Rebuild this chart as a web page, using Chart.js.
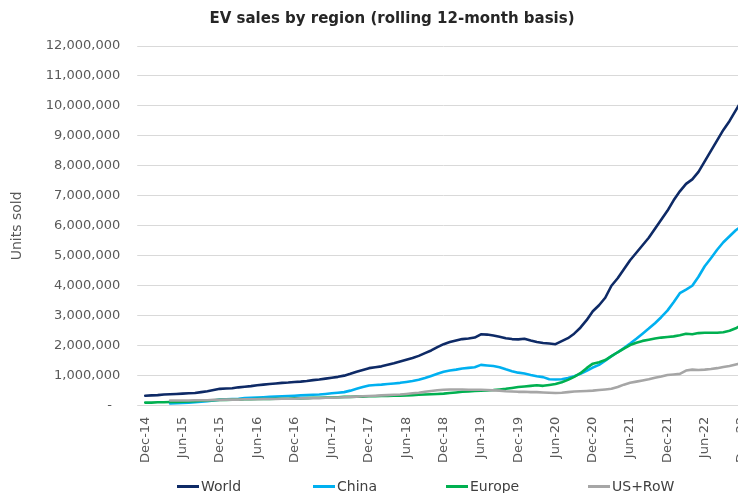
<!DOCTYPE html>
<html>
<head>
<meta charset="utf-8">
<script src="https://cdn.jsdelivr.net/npm/chart.js@4/dist/chart.umd.min.js"></script>
<style>
  html, body { margin:0; padding:0; background:#ffffff; }
  body { width:738px; height:493px; overflow:hidden; position:relative; font-family:"DejaVu Sans", sans-serif; }
  #c { position:absolute; left:0; top:0; }
  #title { position:absolute; left:0; top:8px; width:784px; text-align:center; font-weight:bold; font-size:15px; color:#262626; line-height:20px; white-space:nowrap; }
  #legend { position:absolute; left:0; top:477px; width:738px; height:18px; font-size:14px; color:#404040; }
  .item { position:absolute; top:0; display:flex; align-items:center; white-space:nowrap; height:18px; }
  .swatch { display:inline-block; width:22px; height:3px; margin-right:2px; }
</style>
</head>
<body>
<canvas id="c" width="784" height="493"></canvas>
<div id="title">EV sales by region (rolling 12-month basis)</div>
<div id="legend"></div>
<script>
const months = [
  "Dec-14",
  "Jan-15","Feb-15","Mar-15","Apr-15","May-15","Jun-15","Jul-15","Aug-15","Sep-15","Oct-15","Nov-15","Dec-15",
  "Jan-16","Feb-16","Mar-16","Apr-16","May-16","Jun-16","Jul-16","Aug-16","Sep-16","Oct-16","Nov-16","Dec-16",
  "Jan-17","Feb-17","Mar-17","Apr-17","May-17","Jun-17","Jul-17","Aug-17","Sep-17","Oct-17","Nov-17","Dec-17",
  "Jan-18","Feb-18","Mar-18","Apr-18","May-18","Jun-18","Jul-18","Aug-18","Sep-18","Oct-18","Nov-18","Dec-18",
  "Jan-19","Feb-19","Mar-19","Apr-19","May-19","Jun-19","Jul-19","Aug-19","Sep-19","Oct-19","Nov-19","Dec-19",
  "Jan-20","Feb-20","Mar-20","Apr-20","May-20","Jun-20","Jul-20","Aug-20","Sep-20","Oct-20","Nov-20","Dec-20",
  "Jan-21","Feb-21","Mar-21","Apr-21","May-21","Jun-21","Jul-21","Aug-21","Sep-21","Oct-21","Nov-21","Dec-21",
  "Jan-22","Feb-22","Mar-22","Apr-22","May-22","Jun-22","Jul-22","Aug-22","Sep-22","Oct-22","Nov-22","Dec-22"
];

const world = [
  330000,
  340000,350000,370000,380000,390000,400000,410000,420000,450000,480000,520000,560000,
  570000,580000,610000,630000,650000,680000,700000,720000,740000,760000,770000,790000,
  800000,820000,850000,870000,900000,930000,960000,1000000,1060000,1130000,1190000,1250000,
  1280000,1310000,1360000,1410000,1470000,1530000,1590000,1660000,1750000,1840000,1950000,2050000,
  2120000,2170000,2220000,2240000,2270000,2380000,2370000,2340000,2300000,2250000,2220000,2210000,
  2230000,2170000,2120000,2090000,2070000,2050000,2150000,2250000,2400000,2600000,2850000,3150000,
  3350000,3600000,4000000,4250000,4550000,4850000,5100000,5350000,5600000,5900000,6200000,6500000,
  6850000,7150000,7400000,7550000,7800000,8150000,8500000,8850000,9200000,9500000,9850000,10200000
];

const china = [
  null,
  null,null,null,70000,80000,90000,100000,110000,130000,150000,170000,200000,
  210000,220000,230000,250000,260000,270000,280000,290000,300000,310000,320000,330000,
  340000,350000,360000,370000,390000,410000,430000,450000,500000,560000,620000,670000,
  690000,700000,720000,740000,760000,790000,820000,860000,920000,990000,1060000,1130000,
  1170000,1200000,1240000,1260000,1280000,1360000,1340000,1320000,1280000,1210000,1150000,1100000,
  1070000,1020000,980000,950000,880000,870000,880000,920000,980000,1060000,1160000,1270000,
  1360000,1500000,1650000,1780000,1920000,2070000,2230000,2400000,2570000,2750000,2950000,3170000,
  3450000,3750000,3870000,4000000,4300000,4650000,4920000,5200000,5450000,5650000,5850000,6000000
];

const europe = [
  100000,
  100000,110000,110000,120000,120000,130000,140000,150000,160000,170000,180000,190000,
  190000,200000,200000,210000,210000,220000,220000,220000,230000,230000,230000,240000,
  240000,250000,260000,260000,270000,270000,280000,290000,290000,300000,300000,310000,
  310000,320000,320000,330000,330000,340000,350000,360000,370000,380000,390000,400000,
  420000,440000,460000,470000,490000,500000,510000,520000,540000,560000,590000,620000,
  640000,660000,680000,660000,690000,720000,780000,860000,960000,1080000,1250000,1400000,
  1450000,1520000,1650000,1780000,1900000,2020000,2100000,2160000,2200000,2240000,2270000,2290000,
  2310000,2350000,2400000,2380000,2420000,2430000,2430000,2430000,2450000,2500000,2580000,2700000
];

const usRow = [
  null,
  null,null,null,170000,170000,170000,170000,180000,180000,180000,190000,190000,
  200000,200000,200000,210000,210000,210000,220000,220000,220000,230000,230000,230000,
  240000,240000,250000,250000,260000,260000,270000,280000,290000,300000,310000,320000,
  330000,340000,350000,360000,370000,390000,410000,430000,460000,490000,510000,530000,
  540000,540000,540000,530000,530000,530000,520000,510000,500000,480000,470000,460000,
  460000,450000,450000,440000,430000,420000,430000,450000,470000,480000,490000,500000,
  520000,540000,560000,620000,700000,760000,800000,840000,880000,930000,970000,1020000,
  1040000,1060000,1170000,1200000,1190000,1200000,1220000,1250000,1290000,1320000,1370000,1420000
];

const seriesNames = ["World", "China", "Europe", "US+RoW"];
const seriesColors = ["#0e2a66", "#00b0f0", "#00b050", "#a6a6a6"];
const seriesData = [world, china, europe, usRow];
const yTicksMax = 12000000;
const yTickStep = 1000000;
const legendLeft = [177, 313, 446, 588];

const FONT = '"DejaVu Sans", sans-serif';

const datasets = seriesNames.map((name, i) => ({
  label: name,
  data: seriesData[i],
  borderColor: seriesColors[i],
  backgroundColor: seriesColors[i],
  borderWidth: 2.6,
  pointRadius: 0,
  tension: 0,
  borderJoinStyle: 'round',
  borderCapStyle: 'round',
  order: seriesNames.length - i
}));

new Chart(document.getElementById('c'), {
  type: 'line',
  data: { labels: months, datasets },
  options: {
    responsive: false,
    animation: false,
    layout: { padding: { left: 9, right: 42, top: 46, bottom: 19 } },
    plugins: {
      legend: { display: false },
      tooltip: { enabled: false },
      title: { display: false }
    },
    scales: {
      x: {
        offset: false,
        grid: { display: false, drawTicks: false },
        border: { display: true, color: '#d9d9d9', width: 1 },
        ticks: {
          autoSkip: false,
          maxRotation: 90,
          minRotation: 90,
          padding: 11,
          color: '#595959',
          font: { family: FONT, size: 13 },
          callback: (v, i) => (i % 6 === 0 ? months[i] : '')
        }
      },
      y: {
        min: 0,
        max: yTicksMax,
        border: { display: false },
        grid: { color: '#d9d9d9', lineWidth: 1, drawTicks: true, tickLength: 8, tickColor: '#d9d9d9' },
        ticks: {
          stepSize: yTickStep,
          padding: 17,
          color: '#595959',
          font: { family: FONT, size: 13 },
          callback: (v) => (v === 0 ? '-  ' : v.toLocaleString('en-US'))
        },
        title: {
          display: true,
          text: 'Units sold',
          color: '#595959',
          font: { family: FONT, size: 14 },
          padding: { top: 0, bottom: 3 }
        }
      }
    }
  }
});

const legend = document.getElementById('legend');
seriesNames.forEach((name, i) => {
  const item = document.createElement('div');
  item.className = 'item';
  item.style.left = legendLeft[i] + 'px';
  const sw = document.createElement('span');
  sw.className = 'swatch';
  sw.style.background = seriesColors[i];
  const tx = document.createElement('span');
  tx.textContent = name;
  item.appendChild(sw);
  item.appendChild(tx);
  legend.appendChild(item);
});
</script>
</body>
</html>
